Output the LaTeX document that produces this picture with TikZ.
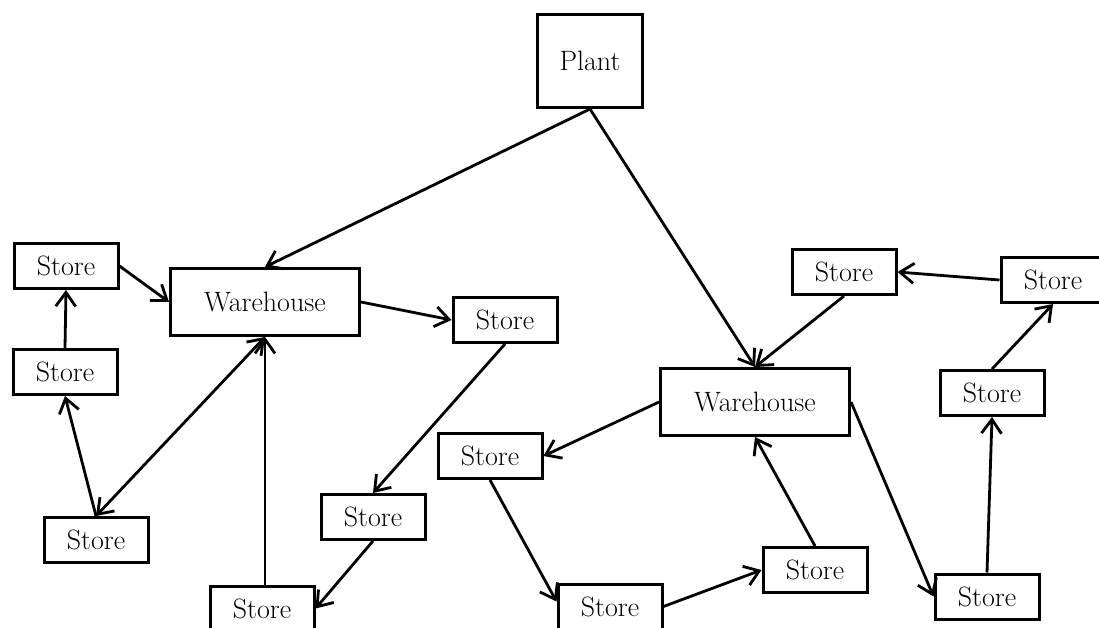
\documentclass[tikz,border=0pt]{standalone}
\usetikzlibrary{arrows.meta}
\begin{document}
\begin{tikzpicture}[x=1pt,y=-1pt,
  box/.style={draw, line width=3pt, inner sep=0pt, font=\fontsize{28}{30}\selectfont},
  store/.style={box, minimum width=104pt, minimum height=45pt},
  wh/.style={box, minimum width=189pt, minimum height=67pt},
  tip/.style={Straight Barb[length=14pt,width=20pt]},
  link/.style={line width=2.8pt, -{Straight Barb[length=14pt,width=20pt]}},
  twoway/.style={line width=2.8pt, {Straight Barb[length=14pt,width=20pt]}-{Straight Barb[length=14pt,width=20pt]}},
]
\useasboundingbox (0,0) rectangle (1099,628);

% plant and the two warehouses
\node[box, minimum width=105pt, minimum height=93pt] (plant) at (590,61) {Plant};
\node[wh] (whl) at (265,302) {Warehouse};
\node[wh] (whr) at (755,402) {Warehouse};

% stores of the western district
\node[store] (s1) at (66,266) {Store};
\node[store] (s2) at (65,372) {Store};
\node[store] (s3) at (96,540) {Store};
\node[store] (s4) at (505,320) {Store};
\node[store] (s5) at (373,517) {Store};
\node[store] (s6) at (262,608.5) {Store};

% stores of the eastern district
\node[store] (r1) at (844,272) {Store};
\node[store] (r2) at (1053,280) {Store};
\node[store] (r3) at (992,393) {Store};
\node[store] (r4) at (490,456) {Store};
\node[store] (r5) at (610,606.5) {Store};
\node[store] (r6) at (815,570) {Store};
\node[store] (r7) at (987,596.5) {Store};

% shipments from the plant
\draw[link] (plant.south) -- (whl.north);
\draw[link] (plant.south) -- (whr.north);

% western loop
\draw[link] (s1.east) -- (whl.west);
\draw[link] (s2.north) -- (s1.south);
\draw[link] (s3.north) -- (s2.south);
\draw[twoway] (whl.south) -- (s3.north);
\draw[link] (s6.north -| whl.south) -- (whl.south);
\draw[link] (whl.east) -- (s4.west);
\draw[link] (s4.south) -- (s5.north);
\draw[link] (s5.south) -- (s6.east);

% eastern loop
\draw[link] (whr.west) -- (r4.east);
\draw[link] (r4.south) -- ([yshift=5pt]r5.west);
\draw[link] (r5.east) -- (r6.west);
\draw[link] (r6.north) -- (whr.south);
\draw[link] (r1.south) -- (whr.north);
\draw[link] (r2.west) -- (r1.east);
\draw[link] (r3.north) -- (r2.south);
\draw[link] (r7.north) -- (r3.south);
\draw[link] (whr.east) -- (r7.west);
\end{tikzpicture}
\end{document}
